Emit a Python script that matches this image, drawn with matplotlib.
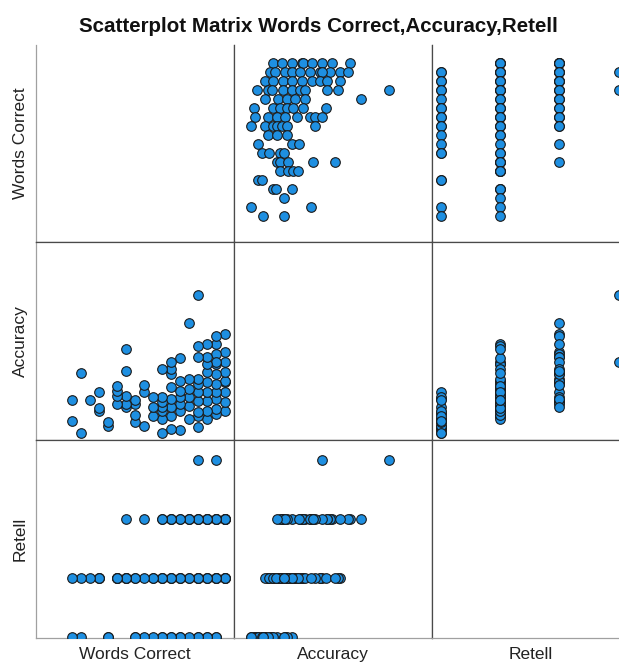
import matplotlib
matplotlib.use('Agg')
import matplotlib.pyplot as plt

plt.rcParams['font.family'] = ['Liberation Sans', 'DejaVu Sans']

# one entry per case: words correct, accuracy, retell score
words_correct = ([17] * 9 + [16] * 11 + [15] * 9 + [14] * 10 + [13] * 6 + [12] * 7 +
                 [11] * 8 + [10] * 7 + [9] * 3 + [8] * 3 + [7] * 4 + [6] * 5 +
                 [5] * 4 + [4] * 2 + [3] * 3 + [2] * 1 + [1] * 2 + [0] * 2)
accuracy = [
    3.3, 4.2, 5.2, 6.2, 6.3, 7.2, 8.2, 9.2, 11.0,               # wc 17
    3.0, 3.5, 4.5, 5.2, 6.0, 7.0, 8.0, 9.0, 10.0, 10.8, 8.2,    # wc 16
    2.5, 3.3, 4.3, 5.2, 6.2, 7.2, 8.0, 8.7, 10.0,               # wc 15
    1.7, 2.8, 3.2, 4.3, 5.2, 6.0, 6.5, 8.7, 9.8, 14.9,          # wc 14
    2.5, 3.8, 4.7, 5.5, 6.5, 12.1,                              # wc 13
    1.4, 3.3, 4.0, 4.7, 5.3, 6.3, 8.6,                          # wc 12
    1.5, 2.8, 3.7, 4.5, 5.7, 7.0, 7.5, 8.2,                     # wc 11
    1.1, 2.5, 3.3, 3.7, 4.2, 4.7, 7.5,                          # wc 10
    2.8, 3.7, 4.7,                                              # wc 9
    1.8, 5.2, 5.9,                                              # wc 8
    2.2, 2.9, 4.0, 4.4,                                         # wc 7
    3.7, 4.0, 4.8, 7.3, 9.5,                                    # wc 6
    4.0, 4.8, 5.3, 5.8,                                         # wc 5
    1.8, 2.2,                                                   # wc 4
    3.3, 3.6, 5.2,                                              # wc 3
    4.4,                                                        # wc 2
    1.1, 7.1,                                                   # wc 1
    2.3, 4.4,                                                   # wc 0
]
retell = [
    1, 2, 1, 2, 1, 2, 1, 2, 2,
    0, 1, 0, 2, 1, 2, 1, 2, 1, 2, 3,
    0, 1, 2, 0, 1, 2, 1, 2, 2,
    0, 1, 0, 2, 1, 2, 1, 2, 1, 3,
    0, 1, 2, 1, 2, 2,
    0, 1, 2, 0, 1, 2, 1,
    0, 1, 0, 2, 1, 2, 1, 2,
    0, 1, 0, 2, 1, 1, 2,
    0, 1, 1,
    0, 1, 2,
    0, 1, 1, 0,
    1, 1, 1, 2, 1,
    1, 1, 1, 1,
    0, 0,
    1, 1, 1,
    1,
    0, 1,
    0, 1,
]
var_names = ['Words Correct', 'Accuracy', 'Retell']

data = [words_correct, accuracy, retell]
# axis ranges when a variable is on x / on y
xlims = [(-4, 18), (-0.6, 19.2), (-0.15, 3.19)]
ylims = [(-2.9, 19), (0.4, 20.2), (-0.02, 3.34)]

W, H = 619, 665
fig = plt.figure(figsize=(W / 100, H / 100), dpi=100)
fig.patch.set_facecolor('white')

col_left = [36, 234, 432]
col_w = 198
row_top = [45, 242, 440]
row_h = [197, 198, 198]

for i in range(3):
    for j in range(3):
        ax = fig.add_axes([col_left[j] / W, 1 - (row_top[i] + row_h[i]) / H,
                           col_w / W, row_h[i] / H])
        ax.set_xlim(*xlims[j])
        ax.set_ylim(*ylims[i])
        ax.set_xticks([])
        ax.set_yticks([])
        for side, sp in ax.spines.items():
            sp.set_color('#4a4a4a')
            sp.set_linewidth(0.9)
        if i == 0:
            ax.spines['top'].set_visible(False)
        if j == 0:
            ax.spines['left'].set_color('#a0a0a0')
        if i == 2:
            ax.spines['bottom'].set_color('#a0a0a0')
        if i != j:
            ax.scatter(data[j], data[i], s=48, c='#1e8fe1',
                       edgecolors='#1a1a1a', linewidths=0.8, zorder=3,
                       clip_on=True)

for i, name in enumerate(var_names):
    cy = row_top[i] + row_h[i] / 2
    fig.text(25 / W, 1 - cy / H, name, rotation=90, rotation_mode='anchor',
             ha='center', va='baseline', fontsize=12.5, color='#222222')
    cx = col_left[i] + col_w / 2
    fig.text(cx / W, 1 - 659 / H, name, ha='center', va='baseline',
             fontsize=12.5, color='#222222')

fig.text(318 / W, 1 - 27 / H, 'Scatterplot Matrix Words Correct,Accuracy,Retell',
         ha='center', va='center', fontsize=14.8, fontweight='bold', color='#111111')

fig.savefig('out.png', dpi=100, facecolor='white')
